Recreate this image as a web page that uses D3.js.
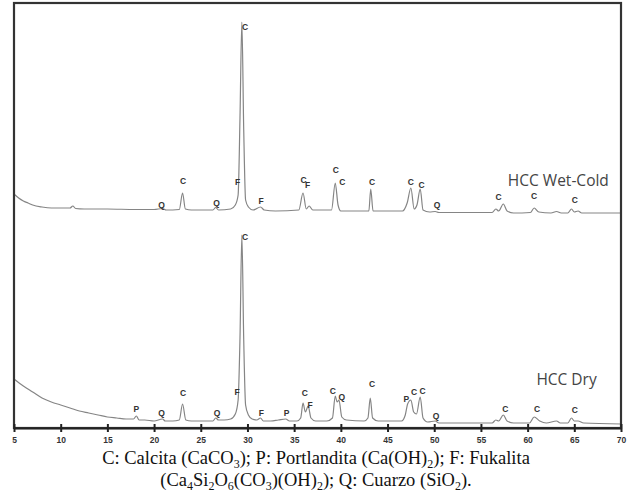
<!DOCTYPE html>
<html>
<head>
<meta charset="utf-8">
<script src="https://cdn.jsdelivr.net/npm/d3@7"></script>
<style>
  html, body { margin: 0; padding: 0; background: #fff; }
  svg { display: block; }
</style>
</head>
<body>
<svg id="chart" width="629" height="502"></svg>
<script>
// ---- data (2θ in degrees, intensity in counts / a.u.) ----
const twoThetaTicks = [5, 10, 15, 20, 25, 30, 35, 40, 45, 50, 55, 60, 65, 70];

const dryPattern = [
  [5, 980], [6, 840], [7, 720], [8, 600], [9, 520], [10, 460], [11, 400], [12, 340],
  [13, 300], [14, 260], [15, 220], [16, 200], [17, 180], [17.8, 180], [18.1, 240],
  [18.4, 160], [19, 160], [20, 140], [20.9, 180], [21.2, 140], [22, 140], [22.7, 160],
  [23.05, 480], [23.4, 160], [24, 140], [25, 140], [26.3, 140], [26.6, 200], [26.9, 160],
  [27.5, 160], [28.2, 180], [28.7, 280], [29.0, 560], [29.2, 1800], [29.4, 3860],
  [29.6, 1760], [29.8, 460], [30.1, 260], [30.5, 180], [31.0, 160], [31.4, 200],
  [31.7, 140], [32.5, 140], [33.3, 160], [34.1, 180], [34.5, 140], [35.3, 140],
  [35.7, 200], [35.95, 500], [36.2, 320], [36.5, 440], [36.8, 200], [37.3, 140],
  [38.5, 140], [39.1, 200], [39.4, 640], [39.6, 520], [39.8, 560], [40.1, 220],
  [40.6, 160], [42.5, 140], [42.9, 200], [43.15, 600], [43.4, 200], [44, 140],
  [46.5, 140], [46.9, 260], [47.15, 480], [47.5, 560], [47.8, 320], [48.1, 280],
  [48.5, 620], [48.8, 200], [49.3, 120], [50.1, 140], [50.5, 100], [52, 100], [55, 100],
  [56.2, 100], [56.6, 160], [56.9, 140], [57.4, 260], [57.8, 140], [58.5, 100],
  [60.2, 100], [60.7, 220], [61.3, 140], [62, 100], [63.1, 140], [63.5, 100],
  [64.3, 100], [64.7, 200], [65.0, 140], [65.4, 140], [66, 100], [70, 80]
];

const wetPattern = [
  [5, 480], [5.5, 400], [6, 340], [6.5, 300], [7, 260], [8, 220], [9, 200], [10, 200],
  [11, 200], [11.3, 240], [11.6, 190], [12.5, 180], [15, 180], [18, 170], [20, 170],
  [20.9, 190], [21.3, 160], [22.7, 170], [23.05, 500], [23.35, 180], [24, 160],
  [26.3, 160], [26.6, 210], [26.9, 160], [28.2, 180], [28.7, 260], [29.0, 460],
  [29.2, 2000], [29.4, 3920], [29.6, 1760], [29.8, 360], [30.1, 220], [30.6, 160],
  [31.4, 220], [31.8, 160], [33, 140], [35.5, 160], [35.95, 500], [36.3, 180],
  [36.6, 240], [37, 160], [39.0, 160], [39.4, 700], [39.7, 260], [40.0, 140],
  [43.0, 140], [43.2, 580], [43.45, 140], [46.6, 140], [47.1, 300], [47.5, 600],
  [47.85, 180], [48.15, 260], [48.5, 580], [48.8, 160], [49.5, 120], [50.1, 130],
  [50.5, 110], [56.2, 110], [56.6, 180], [56.9, 140], [57.4, 280], [57.8, 140],
  [58.5, 100], [60.3, 110], [60.7, 200], [61.2, 120], [62.5, 100], [63.1, 130],
  [63.6, 100], [64.3, 100], [64.7, 180], [65.0, 120], [65.4, 140], [65.8, 100], [70, 100]
];
const wetOffset = 4200;

// peak identification labels: [phase, 2θ, intensity level]
const wetPeakLabels = [
  ["Q", 20.8, 260], ["C", 23.1, 740], ["Q", 26.7, 300], ["F", 28.95, 720], ["C", 29.75, 3820],
  ["F", 31.45, 340], ["C", 36.0, 760], ["F", 36.45, 660], ["C", 39.45, 960], ["C", 40.15, 720],
  ["C", 43.35, 720], ["C", 47.5, 720], ["C", 48.65, 660], ["Q", 50.3, 260], ["C", 56.9, 420],
  ["C", 60.7, 440], ["C", 65.05, 360]
];
const dryPeakLabels = [
  ["P", 18.1, 380], ["Q", 20.8, 300], ["C", 23.1, 700], ["Q", 26.75, 300], ["F", 28.9, 720],
  ["C", 29.75, 3820], ["F", 31.5, 300], ["P", 34.2, 300], ["C", 36.15, 700], ["F", 36.7, 460],
  ["C", 39.15, 740], ["Q", 40.1, 620], ["C", 43.35, 880], ["P", 47.0, 580], ["C", 47.85, 720],
  ["C", 48.75, 740], ["Q", 50.2, 240], ["C", 57.6, 380], ["C", 61.0, 380], ["C", 65.05, 360]
];

const seriesNames = ["HCC Wet-Cold", "HCC Dry"];
const seriesNameAnchors = [[68.7, 4850], [67.4, 860]];

// ---- drawing ----
const svg = d3.select("#chart");
const M = { left: 14, right: 621, top: 3, bottom: 428 };

const x = d3.scaleLinear().domain([5, 70]).range([M.left, M.right]);
const y = d3.scaleLinear().domain([0, 8500]).range([M.bottom, M.top]);

const line = d3.line()
  .x(d => x(d[0]))
  .y(d => y(d[1]))
  .curve(d3.curveMonotoneX);

svg.append("path")
  .datum(wetPattern.map(d => [d[0], d[1] + wetOffset]))
  .attr("d", line)
  .attr("fill", "none").attr("stroke", "#858585").attr("stroke-width", 1.2);

svg.append("path")
  .datum(dryPattern)
  .attr("d", line)
  .attr("fill", "none").attr("stroke", "#858585").attr("stroke-width", 1.2);

// plot frame
svg.append("rect")
  .attr("x", x.range()[0]).attr("y", y.range()[1])
  .attr("width", x.range()[1] - x.range()[0])
  .attr("height", y.range()[0] - y.range()[1])
  .style("fill", "none")
  .style("stroke", "#333")
  .style("stroke-width", "2.2px");

// x axis
const axis = d3.axisBottom(x)
  .tickValues(twoThetaTicks)
  .tickSizeInner(4)
  .tickSizeOuter(0)
  .tickFormat(d3.format("d"));
const gAxis = svg.append("g")
  .attr("transform", `translate(0,${M.bottom})`)
  .call(axis);
gAxis.select(".domain").attr("stroke", "#222").attr("stroke-width", 2.2);
gAxis.selectAll(".tick line")
  .attr("y1", -4).attr("y2", 4)
  .attr("stroke", "#222").attr("stroke-width", 2);
gAxis.selectAll(".tick text")
  .attr("y", 9)
  .attr("font-family", "Liberation Sans, Arial, sans-serif")
  .attr("font-size", 8.5).attr("font-weight", "bold")
  .attr("fill", "#333");

// peak labels
function drawLabels(labels, offset) {
  svg.append("g").selectAll("text")
    .data(labels).join("text")
    .attr("x", d => x(d[1]))
    .attr("y", d => y(d[2] + offset))
    .attr("text-anchor", "middle")
    .attr("dominant-baseline", "central")
    .attr("font-family", "Liberation Sans, Arial, sans-serif")
    .attr("font-size", 8.5).attr("font-weight", "bold")
    .attr("fill", "#333")
    .text(d => d[0]);
}
drawLabels(wetPeakLabels, wetOffset);
drawLabels(dryPeakLabels, 0);

// series names
svg.append("g").selectAll("text")
  .data(seriesNames).join("text")
  .attr("x", (d, i) => x(seriesNameAnchors[i][0]))
  .attr("y", (d, i) => y(seriesNameAnchors[i][1]))
  .attr("text-anchor", "end")
  .attr("font-family", "Open Sans, sans-serif")
  .attr("font-size", 15.5)
  .attr("fill", "#444")
  .text(d => d);

// caption
const captionLines = [
  [["C: Calcita (CaCO", false], ["3", true], ["); P: Portlandita (Ca(OH)", false], ["2", true], ["); F: Fukalita", false]],
  [["(Ca", false], ["4", true], ["Si", false], ["2", true], ["O", false], ["6", true], ["(CO", false], ["3", true], [")(OH)", false], ["2", true], ["); Q: Cuarzo (SiO", false], ["2", true], [").", false]]
];
const cap = svg.append("g")
  .attr("font-family", "Liberation Serif, Times New Roman, serif")
  .attr("font-size", 18.5).attr("fill", "#111");
captionLines.forEach((parts, i) => {
  const t = cap.append("text")
    .attr("x", 316).attr("y", 464 + i * 22)
    .attr("text-anchor", "middle");
  parts.forEach((p, j) => {
    const ts = t.append("tspan").text(p[0]);
    const prevSub = j > 0 && parts[j - 1][1];
    if (p[1]) ts.attr("font-size", 12).attr("dy", 4);
    else if (prevSub) ts.attr("dy", -4);
  });
});
</script>
</body>
</html>
